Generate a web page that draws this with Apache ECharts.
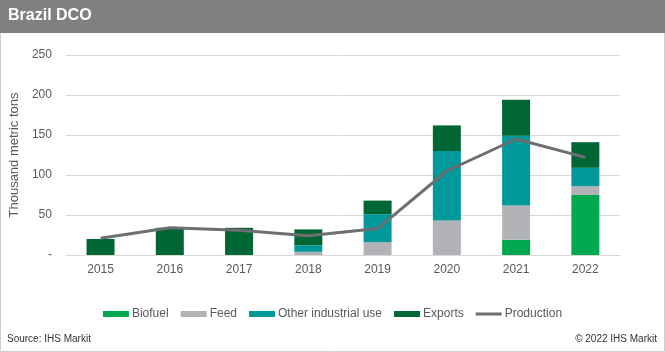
<!DOCTYPE html>
<html>
<head>
<meta charset="utf-8">
<script src="https://cdn.jsdelivr.net/npm/echarts@6/dist/echarts.min.js"></script>
<style>
  html, body { margin: 0; padding: 0; background: #fff; }
  #chart { width: 665px; height: 352px; }
</style>
</head>
<body>
<div id="chart"></div>
<script>
const years = ['2015', '2016', '2017', '2018', '2019', '2020', '2021', '2022']
const biofuel = [0, 0, 0, 0, 0, 0, 19, 75]
const feed = [0, 0, 0, 4, 16, 43, 43, 11]
const otherIndustrial = [0, 0, 0, 8, 35, 87, 87, 23]
const exportsData = [20, 34, 34, 20, 17, 32, 45, 32]
const production = [21, 34, 31, 24, 33, 105, 145, 122]
const yTicks = [0, 50, 100, 150, 200, 250]

const font = 'Liberation Sans, Arial, sans-serif'
const mychart = echarts.init(document.getElementById('chart'))

// thin line icon, tiny marks at top/bottom keep the box 6px tall
const lineIcon = 'path://M0,0 L26,0 L26,0.01 Z M0,1.5 L26,1.5 L26,4.5 L0,4.5 Z M0,6 L26,6 L26,6.01 Z'

const barSeries = (name, data, color) => ({
  name: name,
  type: 'bar',
  stack: 'dco',
  data: data,
  barWidth: 28,
  itemStyle: { color: color },
  emphasis: { disabled: true }
})

mychart.setOption({
  animation: false,
  textStyle: { fontFamily: font },
  graphic: [
    {
      type: 'rect',
      shape: { x: 0.5, y: 0.5, width: 664, height: 351 },
      style: { fill: 'none', stroke: '#cfcfcf', lineWidth: 1 },
      z: 0
    },
    {
      type: 'rect',
      shape: { x: 0, y: 0, width: 665, height: 33 },
      style: { fill: '#808080' },
      z: 1
    },
    {
      type: 'text',
      left: 8,
      top: 8,
      style: { text: 'Brazil DCO', fill: '#fff', font: 'bold 16px ' + font },
      z: 2
    },
    {
      type: 'text',
      left: 7,
      top: 334,
      style: { text: 'Source: IHS Markit', fill: '#333', font: '10px ' + font }
    },
    {
      type: 'text',
      right: 8,
      top: 334,
      style: { text: '\u00a9 2022 IHS Markit', fill: '#333', font: '10px ' + font }
    }
  ],
  grid: {
    left: 62,
    right: 45,
    top: 55,
    bottom: 97
  },
  legend: {
    top: 303,
    left: 'center',
    itemWidth: 26,
    itemHeight: 6,
    itemGap: 12,
    textStyle: { color: '#595959', fontSize: 12, fontFamily: font, padding: [0, 0, 0, -2] },
    data: [
      { name: 'Biofuel', icon: 'rect' },
      { name: 'Feed', icon: 'rect' },
      { name: 'Other industrial use', icon: 'rect' },
      { name: 'Exports', icon: 'rect' },
      { name: 'Production', icon: lineIcon }
    ]
  },
  xAxis: {
    type: 'category',
    data: years,
    axisTick: { show: false },
    axisLine: { lineStyle: { color: '#d9d9d9', width: 1 } },
    axisLabel: { color: '#595959', fontSize: 12, margin: 9 }
  },
  yAxis: {
    type: 'value',
    min: 0,
    max: 250,
    interval: 50,
    name: 'Thousand metric tons',
    nameLocation: 'middle',
    nameGap: 40,
    nameTextStyle: { color: '#595959', fontSize: 13 },
    axisLabel: {
      color: '#595959',
      fontSize: 12,
      margin: 14,
      formatter: v => (yTicks.includes(v) ? (v === 0 ? '-' : String(v)) : '')
    },
    splitLine: { lineStyle: { color: '#d9d9d9', width: 1 } },
    axisLine: { show: false },
    axisTick: { show: false }
  },
  series: [
    barSeries('Biofuel', biofuel, '#00a94f'),
    barSeries('Feed', feed, '#b1b3b6'),
    barSeries('Other industrial use', otherIndustrial, '#00989a'),
    barSeries('Exports', exportsData, '#006633'),
    {
      name: 'Production',
      type: 'line',
      data: production,
      symbol: 'none',
      lineStyle: { color: '#6d6e71', width: 3 },
      itemStyle: { color: '#6d6e71' },
      z: 5
    }
  ]
})
</script>
</body>
</html>
